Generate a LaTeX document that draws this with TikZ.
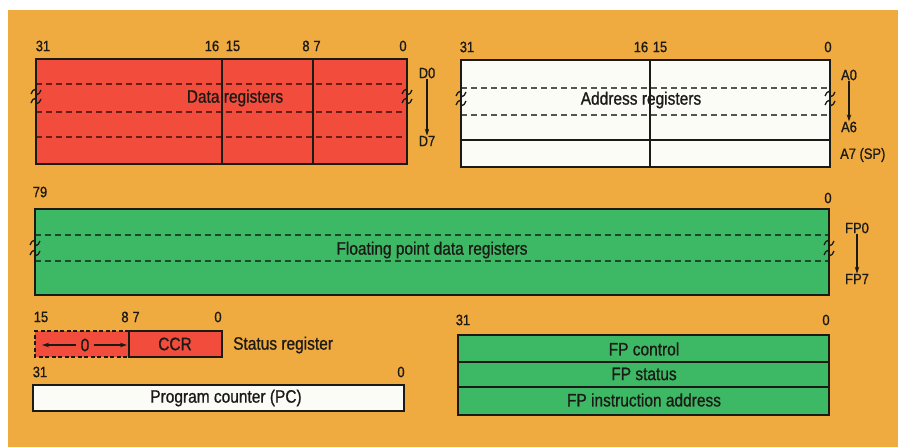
\documentclass[tikz,border=0pt]{standalone}
\usepackage{fontspec}
\setmainfont{Liberation Sans}
\newfontfamily\dfont[FakeStretch=0.86,FakeBold=0.9]{Liberation Sans}
\usetikzlibrary{arrows.meta}
\definecolor{bgor}{HTML}{F0AB40}
\definecolor{regred}{HTML}{F24C3C}
\definecolor{reggreen}{HTML}{3DB966}
\definecolor{regwhite}{HTML}{FCFCF6}
\definecolor{ink}{HTML}{1C1A16}
\definecolor{dred}{HTML}{6A1E14}
\definecolor{dgrey}{HTML}{55554F}
\definecolor{dgreen}{HTML}{1A4A28}
\begin{document}
\begin{tikzpicture}[x=1pt,y=-1pt,
 box/.style={draw=ink,line width=1.5pt},
 sep/.style={draw=ink,line width=1.1pt},
 dsep/.style={dash pattern=on 6pt off 4pt,line width=1.1pt},
 bit/.style={font=\dfont\fontsize{15}{15}\selectfont,text=ink,inner sep=0pt},
 side/.style={font=\dfont\fontsize{15}{15}\selectfont,text=ink,inner sep=0pt},
 lbl/.style={font=\dfont\fontsize{18}{18}\selectfont,text=ink,inner sep=0pt},
 arr/.style={draw=ink,line width=1.1pt,-{Stealth[length=7pt,width=4.5pt]}},
 brk/.pic={\draw[ink,line width=1.3pt] (-5,2) .. controls (-3,-4) and (1,-3) .. (0,0) .. controls (-1,3) and (3,4) .. (5,-2);}
]
\useasboundingbox (0,0) rectangle (906,447);
\fill[white] (0,0) rectangle (906,447);
\fill[bgor] (8,10) rectangle (898,447);

% ---------------- Data registers
\fill[regred] (36,59) rectangle (407,164);
\draw[dsep,dred] (36,84) -- (407,84) (36,112) -- (407,112) (36,137) -- (407,137);
\draw[sep] (222,59) -- (222,164) (313,59) -- (313,164);
\draw[box] (36,59) rectangle (407,164);
\pic at (36,92) {brk}; \pic at (36,101) {brk};
\pic at (407,92) {brk}; \pic at (407,101) {brk};
\node[lbl] (dreg) at (235,98) {Data registers};
\node[bit] (d31) at (43,46) {31};
\node[bit] (d16) at (212,46) {16};
\node[bit] (d15) at (233,46) {15};
\node[bit] (d8) at (306,46) {8};
\node[bit] (d7) at (317,46) {7};
\node[bit] (d0) at (403,46) {0};
\node[side] (D0) at (427,73) {D0};
\node[side] (D7) at (427,141) {D7};
\draw[arr] (D0.south) -- (D7.north);

% ---------------- Address registers
\fill[regwhite] (461,60) rectangle (830,167);
\draw[dsep,dgrey] (461,88) -- (830,88) (461,115) -- (830,115);
\draw[sep] (461,140) -- (830,140) (650,60) -- (650,167);
\draw[box] (461,60) rectangle (830,167);
\pic at (461,94) {brk}; \pic at (461,103) {brk};
\pic at (830,94) {brk}; \pic at (830,103) {brk};
\node[lbl] (areg) at (641,100) {Address registers};
\node[bit] (a31) at (467,47) {31};
\node[bit] (a16) at (641,47) {16};
\node[bit] (a15) at (660,47) {15};
\node[bit] (a0) at (828,47) {0};
\node[side] (A0) at (849,75) {A0};
\node[side] (A6) at (849,127) {A6};
\node[side, anchor=west] (A7) at (840,155) {A7 (SP)};
\draw[arr] (A0.south) -- (A6.north);

% ---------------- Floating point data registers
\fill[reggreen] (35,209) rectangle (829,295);
\draw[dsep,dgreen] (35,235) -- (829,235) (35,261) -- (829,261);
\draw[box] (35,209) rectangle (829,295);
\pic at (35,243) {brk}; \pic at (35,253) {brk};
\pic at (829,243) {brk}; \pic at (829,253) {brk};
\node[lbl] (freg) at (432,250) {Floating point data registers};
\node[bit] (f79) at (40,192) {79};
\node[bit] (f0) at (828,198) {0};
\node[side] (FP0) at (857,228) {FP0};
\node[side] (FP7) at (857,279) {FP7};
\draw[arr] (FP0.south) -- (FP7.north);

% ---------------- Status register
\fill[regred] (35,331) rectangle (222,357);
\draw[ink,dash pattern=on 4pt off 2.5pt,line width=1.5pt] (129,331) -- (35,331) -- (35,357) -- (129,357);
\draw[box] (129,331) -- (222,331) -- (222,357) -- (129,357) -- cycle;
\node[lbl] (zero) at (85,345) {0};
\node[lbl] (ccr) at (175,344) {CCR};
\coordinate (zl) at (42,345);
\coordinate (zr) at (127,345);
\draw[arr,line width=1.3pt] (zero.west) ++(-4,0) -- (zl);
\draw[arr,line width=1.3pt] (zero.east) ++(4,0) -- (zr);
\node[lbl,anchor=west] (sreg) at (233,345) {Status register};
\node[bit] (s15) at (41,317) {15};
\node[bit] (s8) at (125,317) {8};
\node[bit] (s7) at (136,317) {7};
\node[bit] (s0) at (218,317) {0};

% ---------------- Program counter
\fill[regwhite] (33,385) rectangle (404,411);
\draw[box] (33,385) rectangle (404,411);
\node[lbl] (pc) at (226,398) {Program counter (PC)};
\node[bit] (p31) at (40,372) {31};
\node[bit] (p0) at (401,372) {0};

% ---------------- FP control registers
\fill[reggreen] (458,335) rectangle (829,415);
\draw[sep] (458,362) -- (829,362) (458,387) -- (829,387);
\draw[box] (458,335) rectangle (829,415);
\node[lbl] (fpc) at (644,349) {FP control};
\node[lbl] (fps) at (644,374) {FP status};
\node[lbl] (fpi) at (644,400) {FP instruction address};
\node[bit] (c31) at (463,320) {31};
\node[bit] (c0) at (826,320) {0};
\end{tikzpicture}
\end{document}
